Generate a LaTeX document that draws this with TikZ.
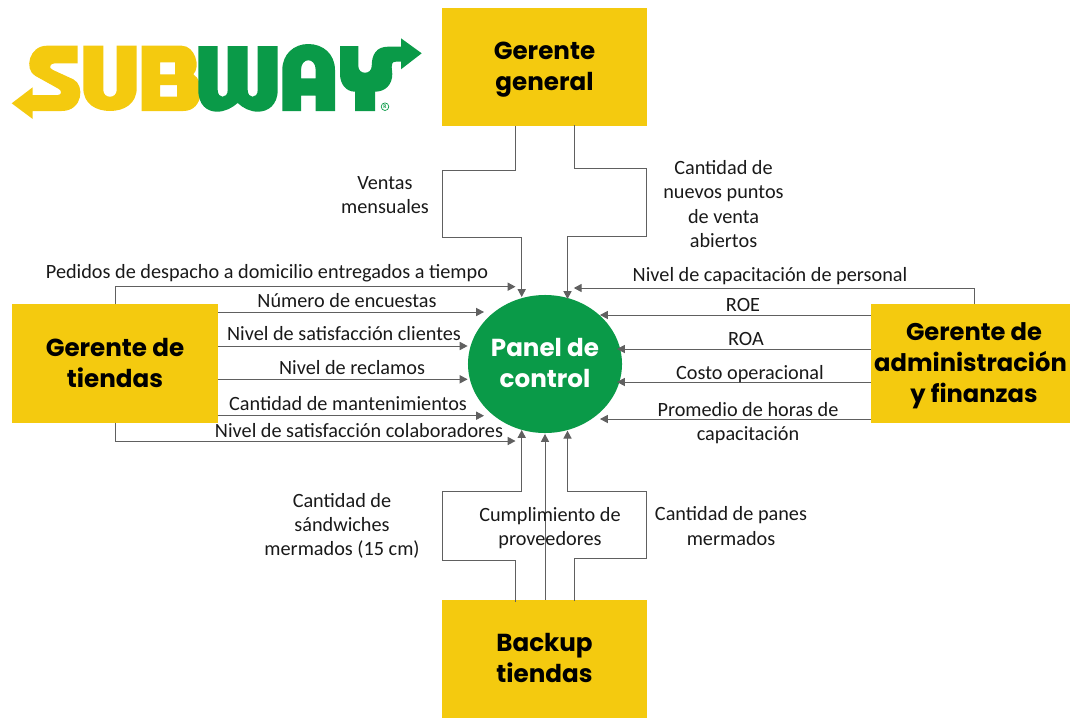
\documentclass[tikz,border=0pt]{standalone}
\usepackage{fontspec}
\setmainfont{Carlito}
\newfontfamily\headfont{Poppins}
\usetikzlibrary{arrows.meta,shapes.geometric}
\definecolor{subyellow}{HTML}{F4CA0F}
\definecolor{subgreen}{HTML}{0A9A48}
\definecolor{flowgray}{HTML}{606060}
\newcommand{\headtext}[1]{\begin{tabular}{@{}c@{}}\noalign{\vskip2.8pt}#1\end{tabular}}

\begin{document}
\begin{tikzpicture}[x=0.025cm,y=0.025cm]
\tikzset{
  flow/.style={draw=flowgray,line width=0.7pt,-{Triangle[length=5.6pt,width=5.8pt]}},
  every node/.style={inner sep=0pt},
  label/.style={font=\fontsize{14.4}{17.3}\selectfont,align=center,text=black!90},
  rolebox/.style={fill=subyellow,minimum width=5.14cm,minimum height=2.95cm,font=\headfont\bfseries\fontsize{17.5}{22}\selectfont}
}
\useasboundingbox (0,0) rectangle (1070,-717);

% logo
\fill [subyellow] (11.7,-103.3) -- (32.7,-87.3) -- (32.7,-95) -- (58,-95) .. controls (62,-95) and (62,-90) .. (58,-88.5) -- (35,-75.7) .. controls (24,-69) and (29,-45.7) .. (47,-45.7) -- (77.7,-45.7) -- (77.7,-63.3) -- (55,-63.3) .. controls (50,-63.3) and (48,-68) .. (53,-70) -- (73.3,-79.3) .. controls (85,-85) and (83,-111) .. (61.7,-111) -- (32.7,-111) -- (32.7,-119) -- cycle;
\fill [subyellow] (83.3,-45.7) -- (103.3,-45.7) -- (103.3,-90) .. controls (103.3,-99) and (116.7,-99) .. (116.7,-90) -- (116.7,-45.7) -- (136.7,-45.7) -- (136.7,-88) .. controls (136.7,-104) and (124,-111) .. (110,-111) .. controls (96,-111) and (83.3,-104) .. (83.3,-88) -- cycle;
\fill [subyellow,even odd rule] (141.7,-45.7) -- (181.7,-45.7) .. controls (195,-45.7) and (201,-67) .. (193.3,-74.3) .. controls (204,-80) and (205,-111) .. (183.3,-111) -- (141.7,-111) -- cycle (160,-62.3) -- (175,-62.3) -- (175,-74.3) -- (160,-74.3) -- cycle (160,-85) -- (177,-85) -- (177,-96.7) -- (160,-96.7) -- cycle;
\fill [subgreen] (198.3,-46) -- (217.7,-46) -- (217.7,-90) .. controls (217.7,-99) and (227.7,-99) .. (227.7,-90) -- (227.7,-46) -- (247.7,-46) -- (247.7,-90) .. controls (247.7,-99) and (257.7,-99) .. (257.7,-90) -- (257.7,-46) -- (277.7,-46) -- (277.7,-90) .. controls (277.7,-105) and (268,-111.7) .. (258,-111.7) .. controls (250,-111.7) and (243,-108) .. (237.7,-103) .. controls (232,-108) and (225,-111.7) .. (217,-111.7) .. controls (207,-111.7) and (198.3,-105) .. (198.3,-90) -- cycle;
\fill [subgreen,even odd rule] (282.3,-111) -- (282.3,-70) .. controls (282.3,-54) and (294,-44) .. (308.3,-44) .. controls (323,-44) and (335,-54) .. (335,-70) -- (335,-111) -- (315.7,-111) -- (315.7,-95.7) -- (301,-95.7) -- (301,-111) -- cycle (301,-78.3) -- (315.7,-78.3) -- (315.7,-70) .. controls (315.7,-57) and (301,-57) .. (301,-70) -- cycle;
\fill [subgreen] (340,-46) -- (358.3,-46) -- (358.3,-66) .. controls (358.3,-75) and (371.7,-75) .. (371.7,-66) .. controls (371.7,-55) and (376,-46.7) .. (388,-46.7) -- (401,-46.7) -- (401,-38.3) -- (421.7,-53.3) -- (401,-69.3) -- (401,-61.7) -- (396,-61.7) .. controls (392,-61.7) and (391.7,-64) .. (391.7,-67) -- (392.3,-74) .. controls (392.3,-85) and (385,-91.7) .. (375,-91.7) -- (375,-111) -- (355,-111) -- (355,-91.7) .. controls (346,-91.7) and (340,-84) .. (340,-74) -- cycle;
\node (regmark) [circle,draw=subgreen,line width=0.5pt,minimum size=0.19cm,text=subgreen,font=\fontsize{4}{4}\selectfont\bfseries] at (385,-106.7) {R};

% actors
\node (general) [rolebox] at (544.5,-67) {\headtext{Gerente\\general}};
\node (tiendas) [rolebox] at (115,-363.5) {\headtext{Gerente de\\tiendas}};
\node (admin) [rolebox,minimum width=4.98cm,font=\headfont\bfseries\fontsize{17.2}{22}\selectfont] at (970.5,-363.5) {\headtext{\hspace*{5pt}Gerente de\\administración\\\hspace*{5pt}y finanzas}};
\node (backup) [rolebox] at (544.5,-659) {\headtext{Backup\\tiendas}};
\node (panel) [ellipse,fill=subgreen,minimum width=3.85cm,minimum height=3.45cm,text=white,font=\headfont\bfseries\fontsize{17.5}{22}\selectfont] at (545,-364) {\headtext{Panel de\\control}};

% ends at the panel
\coordinate (inA) at (521.7,-297);
\coordinate (inB) at (567.5,-299);
\coordinate (inC) at (515.5,-286.7);
\coordinate (inD) at (484,-312);
\coordinate (inE) at (467.6,-346);
\coordinate (inF) at (467.6,-379.3);
\coordinate (inG) at (484,-415.7);
\coordinate (inH) at (515.5,-441);
\coordinate (inI) at (573.8,-288);
\coordinate (inJ) at (600,-315);
\coordinate (inK) at (617,-349);
\coordinate (inL) at (617,-382);
\coordinate (inM) at (600,-419);
\coordinate (inN) at (521.7,-430);
\coordinate (inO) at (545,-434);
\coordinate (inP) at (567.5,-430.7);

% top
\draw [flow] (515,-126) -- (515,-170) -- (442.7,-170) -- (442.7,-237) -- (521.7,-237) -- (inA);
\draw [flow] (574,-125) -- (574,-168) -- (646.7,-168) -- (646.7,-236.7) -- (567.5,-236.7) -- (inB);
% left
\draw [flow] (tiendas.north) -- (115,-286.7) -- (inC);
\draw [flow] (tiendas.east |- inD) -- (inD);
\draw [flow] (tiendas.east |- inE) -- (inE);
\draw [flow] (tiendas.east |- inF) -- (inF);
\draw [flow] (tiendas.east |- inG) -- (inG);
\draw [flow] (tiendas.south) -- (115,-441) -- (inH);
% right
\draw [flow] (974.4,-304) -- (974.4,-288) -- (inI);
\draw [flow] (admin.west |- inJ) -- (inJ);
\draw [flow] (admin.west |- inK) -- (inK);
\draw [flow] (admin.west |- inL) -- (inL);
\draw [flow] (admin.west |- inM) -- (inM);
% bottom
\draw [flow] (515,-602) -- (515,-560.7) -- (442.7,-560.7) -- (442.7,-491.3) -- (521.7,-491.3) -- (inN);
\draw [flow] (backup.north -| inO) -- (inO);
\draw [flow] (574,-601) -- (574,-558.7) -- (646.7,-558.7) -- (646.7,-491) -- (567.5,-491) -- (inP);

% labels
\node (lblVentas) [label] at (385,-195) {Ventas\\mensuales};
\node (lblPuntos) [label] at (723.5,-204) {Cantidad de\\nuevos puntos\\de venta\\abiertos};
\node (lblPedidos) [label] at (267,-273) {Pedidos de despacho a domicilio entregados a tiempo};
\node (lblEncuestas) [label] at (347,-301) {Número de encuestas};
\node (lblClientes) [label] at (344,-334) {Nivel de satisfacción clientes};
\node (lblReclamos) [label] at (352,-368) {Nivel de reclamos};
\node (lblManten) [label] at (348,-404) {Cantidad de mantenimientos};
\node (lblColab) [label] at (359,-431) {Nivel de satisfacción colaboradores};
\node (lblCapac) [label] at (770,-276) {Nivel de capacitación de personal};
\node (lblROE) [label] at (743,-305) {ROE};
\node (lblROA) [label] at (746,-339) {ROA};
\node (lblCosto) [label] at (750,-374) {Costo operacional};
\node (lblHoras) [label] at (748,-423) {Promedio de horas de\\capacitación};
\node (lblSandw) [label] at (342,-526) {Cantidad de\\sándwiches\\mermados (15 cm)};
\node (lblProv) [label] at (550,-528) {Cumplimiento de\\proveedores};
\node (lblPanes) [label] at (731,-526) {Cantidad de panes\\mermados};
\end{tikzpicture}
\end{document}
